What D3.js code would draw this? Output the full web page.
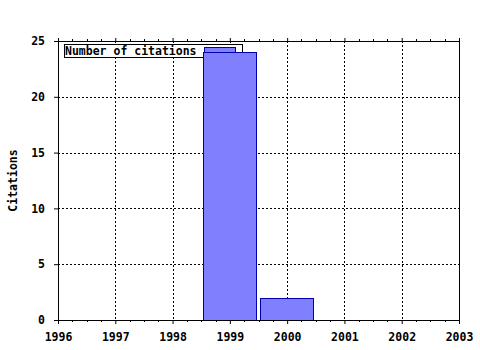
<!DOCTYPE html>
<html><head><meta charset="utf-8">
<script src="https://cdn.jsdelivr.net/npm/d3@7"></script>
<style>body{margin:0;background:#fff}svg{display:block}text{font-family:"DejaVu Sans Mono",monospace;font-weight:bold;font-size:11.5px;fill:#000}</style>
</head><body>
<script>
const years = [1999, 2000];
const citations = [24, 2];
const xTicks = [1996, 1997, 1998, 1999, 2000, 2001, 2002, 2003];
const yTicks = [0, 5, 10, 15, 20, 25];
const seriesName = "Number of citations";
const yTitle = "Citations";

const W = 480, H = 350;
const L = 58, R = 459, T = 41, B = 320;
const svg = d3.select("body").append("svg").attr("width", W).attr("height", H);
const x = d3.scaleLinear().domain([1996, 2003]).range([L, R]);
const y = d3.scaleLinear().domain([0, 25]).range([B, T]);

// grid
const g = svg.append("g").attr("stroke", "#000").attr("stroke-dasharray", "2,2").attr("shape-rendering", "crispEdges");
xTicks.slice(1, -1).forEach(v => g.append("line").attr("x1", Math.round(x(v)) + 0.5).attr("x2", Math.round(x(v)) + 0.5).attr("y1", T).attr("y2", B));
yTicks.slice(1, -1).forEach(v => g.append("line").attr("x1", L).attr("x2", R).attr("y1", Math.round(y(v)) + 0.5).attr("y2", Math.round(y(v)) + 0.5));

// legend
const lg = svg.append("g");
lg.append("rect").attr("x", 64.5).attr("y", 44.5).attr("width", 178).attr("height", 13).attr("fill", "#fff").attr("stroke", "#000");
lg.append("rect").attr("x", 204.5).attr("y", 47.5).attr("width", 31).attr("height", 7).attr("fill", "#8080ff").attr("stroke", "#0000b0");
lg.append("text").attr("x", 65).attr("y", 55).text(seriesName);

// bars
const bw = 0.9;
svg.append("g").selectAll("rect").data(years).join("rect")
  .attr("x", (d) => Math.floor(x(d - bw / 2)) - 0.5)
  .attr("width", (d) => Math.round(x(d + bw / 2)) - Math.floor(x(d - bw / 2)) + 1)
  .attr("y", (d, i) => Math.round(y(citations[i])) + 0.5)
  .attr("height", (d, i) => Math.round(y(0)) - Math.round(y(citations[i])))
  .attr("fill", "#8080ff").attr("stroke", "#0000b0");

// axes
const bottomAxis = d3.axisBottom(x).tickValues(xTicks).tickFormat(d3.format("d")).tickSize(4).tickPadding(9);
const ax = svg.append("g").attr("transform", `translate(0,${B})`).call(bottomAxis);
const minor = d3.range(1996, 2003.001, 0.25).filter(v => Math.abs(v - Math.round(v)) > 0.01);
ax.selectAll(".minor").data(minor).join("line").attr("class", "minor").attr("stroke", "#000")
  .attr("x1", d => Math.round(x(d)) + 0.5).attr("x2", d => Math.round(x(d)) + 0.5).attr("y1", 0).attr("y2", 2);
const topAxis = d3.axisTop(x).tickValues(xTicks).tickFormat("").tickSize(3);
const at = svg.append("g").attr("transform", `translate(0,${T})`).call(topAxis);
at.selectAll(".minor").data(minor).join("line").attr("class", "minor").attr("stroke", "#000")
  .attr("x1", d => Math.round(x(d)) + 0.5).attr("x2", d => Math.round(x(d)) + 0.5).attr("y1", 0).attr("y2", -2);
const leftAxis = d3.axisLeft(y).tickValues(yTicks).tickSize(4).tickPadding(9);
const ay = svg.append("g").attr("transform", `translate(${L},0)`).call(leftAxis);
svg.append("line").attr("x1", R + 0.5).attr("x2", R + 0.5).attr("y1", T).attr("y2", B).attr("stroke", "#000");
[ax, at, ay].forEach(a => {
  a.select(".domain").attr("stroke", "#000");
  a.selectAll("text").style("font-family", '"DejaVu Sans Mono",monospace').style("font-weight", "bold").style("font-size", "11.5px");
});
ay.select(".domain").attr("d", `M0.5,${T}V${B + 0.5}`);
ax.select(".domain").attr("d", `M${L},0.5H${R + 1}`);
at.select(".domain").attr("d", `M${L},0.5H${R + 1}`);

svg.append("text").attr("transform", `translate(17,${(T + B) / 2}) rotate(-90)`).attr("text-anchor", "middle").text(yTitle);
</script>
</body></html>
